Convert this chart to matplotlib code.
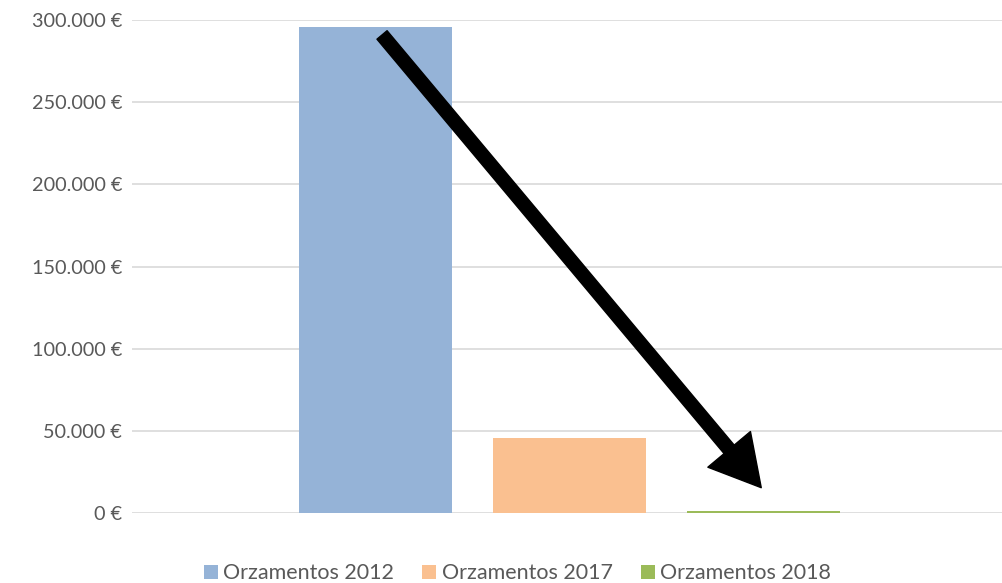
import matplotlib.pyplot as plt
from matplotlib.patches import FancyArrowPatch
from matplotlib.ticker import FuncFormatter

series = ["Orzamentos 2012", "Orzamentos 2017", "Orzamentos 2018"]
values = [296000, 45500, 1000]
colors = ["#95B3D7", "#FAC090", "#9BBB59"]
yticks = [0, 50000, 100000, 150000, 200000, 250000, 300000]

plt.rcParams["font.family"] = ["Lato", "DejaVu Sans"]

fig = plt.figure(figsize=(10.03, 5.83), dpi=100)
ax = fig.add_axes([132 / 1003, 70 / 583, 871 / 1003, 493 / 583])

for i, (name, val, c) in enumerate(zip(series, values, colors)):
    ax.bar(i, val, width=0.79, color=c, label=name, zorder=2)

ax.set_xlim(-1.255, 3.235)
ax.set_ylim(0, 300000)
ax.set_yticks(yticks)
ax.yaxis.set_major_formatter(FuncFormatter(
    lambda v, p: "{:,.0f} €".format(v).replace(",", ".")))
ax.set_xticks([])
ax.grid(axis="y", color="#D9D9D9", linewidth=1.2, zorder=0)
for s in ax.spines.values():
    s.set_visible(False)
ax.tick_params(axis="y", length=0, pad=7, labelsize=14.3, labelcolor="#595959")

# arrow showing the drop
arrow = FancyArrowPatch((0.285, 0.974), (0.7245, 0.047),
                        transform=ax.transAxes,
                        arrowstyle="simple,head_length=36,head_width=40,tail_width=9.5",
                        mutation_scale=1, color="black", zorder=5,
                        clip_on=False)
ax.add_patch(arrow)

leg = fig.legend(loc="lower center", bbox_to_anchor=(0.516, -0.034), ncol=3,
                 frameon=False, fontsize=15.5, handlelength=0.65, handleheight=0.65,
                 handletextpad=0.25, columnspacing=1.3)
for t in leg.get_texts():
    t.set_color("#595959")

fig.savefig("out.png", dpi=100)
